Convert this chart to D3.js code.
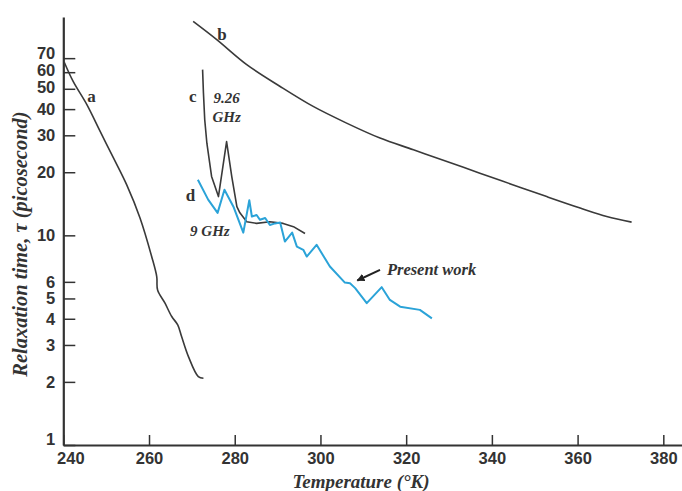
<!DOCTYPE html>
<html>
<head>
<meta charset="utf-8">
<script src="https://cdn.jsdelivr.net/npm/d3@7"></script>
<style>
    body { margin: 0; background: #fff; }
    svg { display: block; font-family: "Liberation Serif", "Times New Roman", serif; }
</style>
</head>
<body>
<div id="chart"></div>
<script>
// curve a
var tempA = [240.2, 242.3, 245.5, 248.6, 251.7, 254.8, 257.9, 260.6, 261.8, 262.0, 263.7, 265.3, 266.7, 267.6, 269.2, 271.5, 272.7];
var tauA = [67.1, 54.2, 42.0, 31.3, 23.4, 17.4, 12.1, 7.95, 6.36, 5.49, 4.76, 4.10, 3.74, 3.29, 2.64, 2.12, 2.08];

// curve b
var tempB = [270.3, 275.8, 282.8, 290.6, 298.3, 306.1, 313.9, 321.7, 329.5, 337.2, 345.0, 352.8, 360.6, 366.8, 372.6];
var tauB = [104.8, 85.8, 65.2, 51.3, 41.2, 34.3, 29.1, 25.6, 22.5, 19.8, 17.4, 15.3, 13.5, 12.3, 11.56];

// curve c (9.26 GHz)
var tempC = [272.5, 272.7, 273.0, 273.5, 274.6, 276.2, 278.1, 279.3, 280.5, 281.2, 282.8, 285.1, 288.2, 291.3, 293.7, 296.4];
var tauC = [61.7, 47.7, 35.6, 27.5, 19.1, 15.3, 28.0, 19.1, 13.7, 12.8, 11.6, 11.4, 11.6, 11.4, 11.0, 10.2];

// curve d (9 GHz, present work)
var tempD = [271.4, 273.8, 276.0, 277.6, 279.7, 282.0, 283.4, 284.0, 285.1, 285.9, 287.1, 288.2, 289.4, 290.6, 291.7,
    293.4, 294.5, 296.0, 296.8, 299.1, 302.2, 305.7, 306.9, 308.1, 310.8, 314.3, 316.2, 318.6, 323.2, 326.0];
var tauD = [18.4, 14.8, 12.8, 16.5, 13.7, 10.3, 14.7, 12.3, 12.5, 11.86, 12.1, 11.2, 11.4, 11.5, 9.34,
    10.3, 8.84, 8.53, 7.92, 9.01, 7.10, 5.95, 5.91, 5.60, 4.75, 5.66, 4.92, 4.57, 4.41, 4.02];

var xTicks = [240, 260, 280, 300, 320, 340, 360, 380];
var yTicks = [1, 2, 3, 4, 5, 6, 10, 20, 30, 40, 50, 60, 70];

var width = 682, height = 491;
var margin = { top: 17, left: 63.3, bottom: 46 };

var svg = d3.select("#chart")
    .append("svg")
    .attr("width", width)
    .attr("height", height);

var xScale = d3.scaleLinear()
    .domain([240, 384.36])
    .range([margin.left, width]);

var yScale = d3.scaleLog()
    .domain([1, 110])
    .range([height - margin.bottom, margin.top]);

function pairs(xs, ys) {
    return xs.map((x, i) => [x, ys[i]]);
}

// axes
var xAxis = svg.append("g")
    .attr("transform", `translate(0,${height - margin.bottom})`)
    .call(d3.axisBottom(xScale)
        .tickValues(xTicks)
        .tickSizeInner(-10)
        .tickSizeOuter(0)
        .tickPadding(7)
        .tickFormat(d3.format("d")));

xAxis.selectAll("text")
    .style("font-size", "16.5px")
    .style("font-weight", "bold")
    .style("fill", "#333")
    .attr("dx", d => d === 240 ? 7 : 0);

var yAxis = svg.append("g")
    .attr("transform", `translate(${margin.left},0)`)
    .call(d3.axisLeft(yScale)
        .tickValues(yTicks)
        .tickSizeInner(-12)
        .tickSizeOuter(0)
        .tickPadding(8)
        .tickFormat(d3.format("d")));

// labels sit a little off the log positions in the original, 70 and 1 most of all
yAxis.selectAll("text")
    .style("font-size", "16.5px")
    .style("font-weight", "bold")
    .style("fill", "#333")
    .attr("dy", d => d === 1 ? "-0.05em" : d === 70 ? "0.05em" : d >= 50 ? "0.2em" : "0.32em");

svg.selectAll(".domain")
    .attr("stroke", "#333")
    .attr("stroke-width", 2.2);
svg.selectAll(".tick line")
    .attr("stroke", "#333")
    .attr("stroke-width", 1.5);

// axis titles
svg.append("text")
    .attr("transform", "translate(27,244) rotate(-90)")
    .attr("text-anchor", "middle")
    .style("font-size", "20.5px")
    .style("font-weight", "bold")
    .style("font-style", "italic")
    .style("fill", "#333")
    .text("Relaxation time, τ (picosecond)");

svg.append("text")
    .attr("x", 361)
    .attr("y", 488)
    .attr("text-anchor", "middle")
    .style("font-size", "19px")
    .style("font-weight", "bold")
    .style("font-style", "italic")
    .style("fill", "#333")
    .text("Temperature (°K)");

// curves
var curves = [
    { pts: pairs(tempA, tauA), color: "#3a3a3a", w: 1.6, smooth: true },
    { pts: pairs(tempB, tauB), color: "#3a3a3a", w: 1.6, smooth: true },
    { pts: pairs(tempC, tauC), color: "#3a3a3a", w: 1.6, smooth: false },
    { pts: pairs(tempD, tauD), color: "#2ba3d8", w: 2, smooth: false }
];

var smoothLine = d3.line()
    .x(d => xScale(d[0]))
    .y(d => yScale(d[1]))
    .curve(d3.curveCatmullRom.alpha(0.5));

var rawLine = d3.line()
    .x(d => xScale(d[0]))
    .y(d => yScale(d[1]));

svg.selectAll(".curve")
    .data(curves)
    .join("path")
    .attr("class", "curve")
    .attr("d", d => d.smooth ? smoothLine(d.pts) : rawLine(d.pts))
    .attr("fill", "none")
    .attr("stroke", d => d.color)
    .attr("stroke-width", d => d.w)
    .attr("stroke-linejoin", "round");

// labels
var labels = [
    { t: 246.6, v: 43.4, text: "a", italic: false, size: 17 },
    { t: 277.0, v: 85.8, text: "b", italic: false, size: 17 },
    { t: 270.2, v: 43.4, text: "c", italic: false, size: 17 },
    { t: 278.1, v: 43.0, text: "9.26", italic: true, size: 15 },
    { t: 278.1, v: 34.8, text: "GHz", italic: true, size: 15 },
    { t: 269.7, v: 14.6, text: "d", italic: false, size: 17 },
    { t: 274.2, v: 9.9, text: "9 GHz", italic: true, size: 15 }
];

svg.selectAll(".lbl")
    .data(labels)
    .join("text")
    .attr("class", "lbl")
    .attr("x", d => xScale(d.t))
    .attr("y", d => yScale(d.v))
    .attr("text-anchor", "middle")
    .style("font-size", d => d.size + "px")
    .style("font-weight", "bold")
    .style("font-style", d => d.italic ? "italic" : "normal")
    .style("fill", "#333")
    .text(d => d.text);

// present work arrow
svg.append("defs")
    .append("marker")
    .attr("id", "arrowhead")
    .attr("viewBox", "0 0 10 10")
    .attr("refX", 9)
    .attr("refY", 5)
    .attr("markerWidth", 4)
    .attr("markerHeight", 4)
    .attr("orient", "auto")
    .append("path")
    .attr("d", "M0,0 L10,5 L0,10 z")
    .attr("fill", "#222");

svg.append("line")
    .attr("x1", xScale(313.9))
    .attr("y1", yScale(6.84))
    .attr("x2", xScale(308.6))
    .attr("y2", yScale(6.09))
    .attr("stroke", "#222")
    .attr("stroke-width", 2)
    .attr("marker-end", "url(#arrowhead)");

svg.append("text")
    .attr("x", xScale(315.5))
    .attr("y", yScale(6.48))
    .style("font-size", "16.5px")
    .style("font-weight", "bold")
    .style("font-style", "italic")
    .style("fill", "#333")
    .text("Present work");
</script>
</body>
</html>
